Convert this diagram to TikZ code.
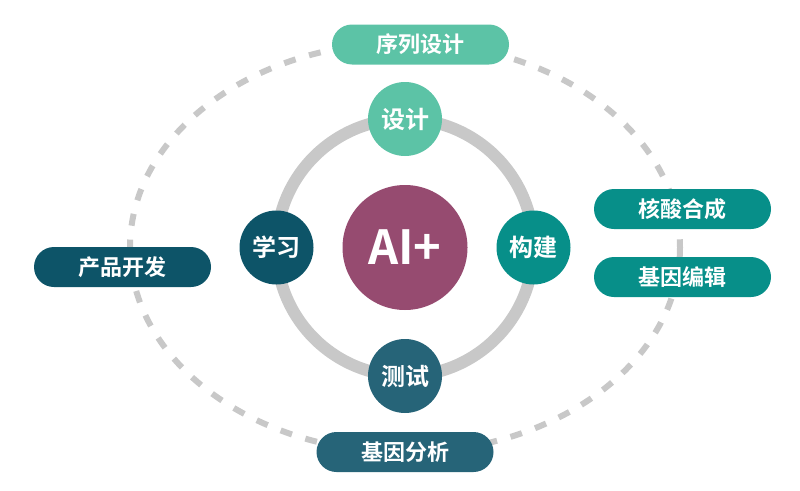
\documentclass[tikz,border=0pt]{standalone}
\usepackage{fontspec}
\setmainfont{Noto Sans CJK SC}[BoldFont={Noto Sans CJK SC Bold}]
\usepackage{xcolor}
\usepackage{tikz}

\definecolor{mint}{HTML}{5CC3A6}
\definecolor{seateal}{HTML}{078F89}
\definecolor{deepteal}{HTML}{0D5468}
\definecolor{slateteal}{HTML}{266478}
\definecolor{plum}{HTML}{964B70}
\definecolor{ringgray}{HTML}{C8C8C8}

\tikzset{
    stage/.style={circle, minimum size=74pt, inner sep=0pt, text=white,
        font=\bfseries\fontsize{24}{28}\selectfont},
    tag/.style={rounded corners=20pt, minimum width=177pt, minimum height=40pt,
        inner sep=0pt, text=white, font=\bfseries\fontsize{22}{26}\selectfont}
}

\begin{document}
\begin{tikzpicture}[x=1pt, y=-1pt]
        \useasboundingbox (0, 0) rectangle (800, 490);

        % Outer loop
        \draw[ringgray, line width=6pt, dash pattern=on 12pt off 14pt]
            (405, 247.5) ellipse [x radius=275, y radius=205];

        % Inner ring
        \draw[ringgray, line width=12pt] (405, 247.5) circle [radius=128.5];

        % Core
        \node[circle, fill=plum, minimum size=125pt, inner sep=0pt, text=white,
            font=\bfseries\fontsize{47}{52}\selectfont] (core) at (405, 247.5) {AI+};

        % Stages
        \node[stage, fill=mint] (design) at (405, 119) {设计};
        \node[stage, fill=seateal] (build) at (533.5, 247.5) {构建};
        \node[stage, fill=slateteal] (test) at (405, 376) {测试};
        \node[stage, fill=deepteal] (learn) at (276.5, 247.5) {学习};

        % Applications
        \node[tag, fill=mint] (seqdesign) at (420.5, 44.5) {序列设计};
        \node[tag, fill=seateal] (synthesis) at (682.5, 209) {核酸合成};
        \node[tag, fill=seateal] (editing) at (682.5, 277) {基因编辑};
        \node[tag, fill=slateteal] (analysis) at (405, 452) {基因分析};
        \node[tag, fill=deepteal] (product) at (122.5, 267) {产品开发};
    \end{tikzpicture}
\end{document}
